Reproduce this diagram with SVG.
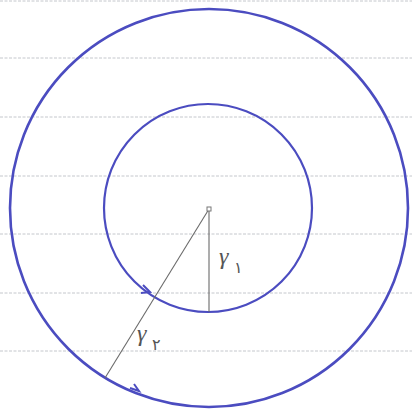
<svg xmlns="http://www.w3.org/2000/svg" width="412" height="410" viewBox="0 0 412 410">
<style>
.rule{stroke:#c4c7cc;stroke-width:1;stroke-dasharray:3 1.5}
.circ{fill:none;stroke:#4b4cc0}
.thin{stroke:#6a6a6a;stroke-width:1.1;fill:none}
.lbl{font-family:"Liberation Serif",serif;font-style:italic;font-size:24px;fill:#555}
.sub{font-family:"DejaVu Sans",sans-serif;font-size:16px;fill:#555}
</style>
<rect width="412" height="410" fill="#ffffff"/>
<g id="ruled-lines">
<line class="rule" x1="0" y1="1" x2="412" y2="1"/>
<line class="rule" x1="0" y1="58" x2="412" y2="58"/>
<line class="rule" x1="0" y1="117" x2="412" y2="117"/>
<line class="rule" x1="0" y1="176" x2="412" y2="176"/>
<line class="rule" x1="0" y1="234" x2="412" y2="234"/>
<line class="rule" x1="0" y1="293" x2="412" y2="293"/>
<line class="rule" x1="0" y1="351" x2="412" y2="351"/>
</g>
<g id="outer-circle">
<circle class="circ" cx="209" cy="208" r="199" stroke-width="2.6"/>
<path class="circ" stroke-width="2" d="M130 388 L139 391 L134 384"/>
</g>
<g id="inner-circle">
<circle class="circ" cx="208" cy="208" r="104" stroke-width="2.2"/>
<path class="circ" stroke-width="2" d="M143 285 L150 292 L141 293"/>
</g>
<g id="connectors">
<line class="thin" x1="209" y1="209" x2="209" y2="312"/>
<line class="thin" x1="209" y1="209" x2="105" y2="378"/>
<rect x="207" y="207" width="4" height="4" fill="#fff" stroke="#777" stroke-width="1"/>
</g>
<g id="labels">
<text class="lbl" x="219" y="264">γ</text>
<text class="sub" x="234" y="273">۱</text>
<text class="lbl" x="137" y="341">γ</text>
<text class="sub" x="152" y="350">۲</text>
</g>
</svg>
